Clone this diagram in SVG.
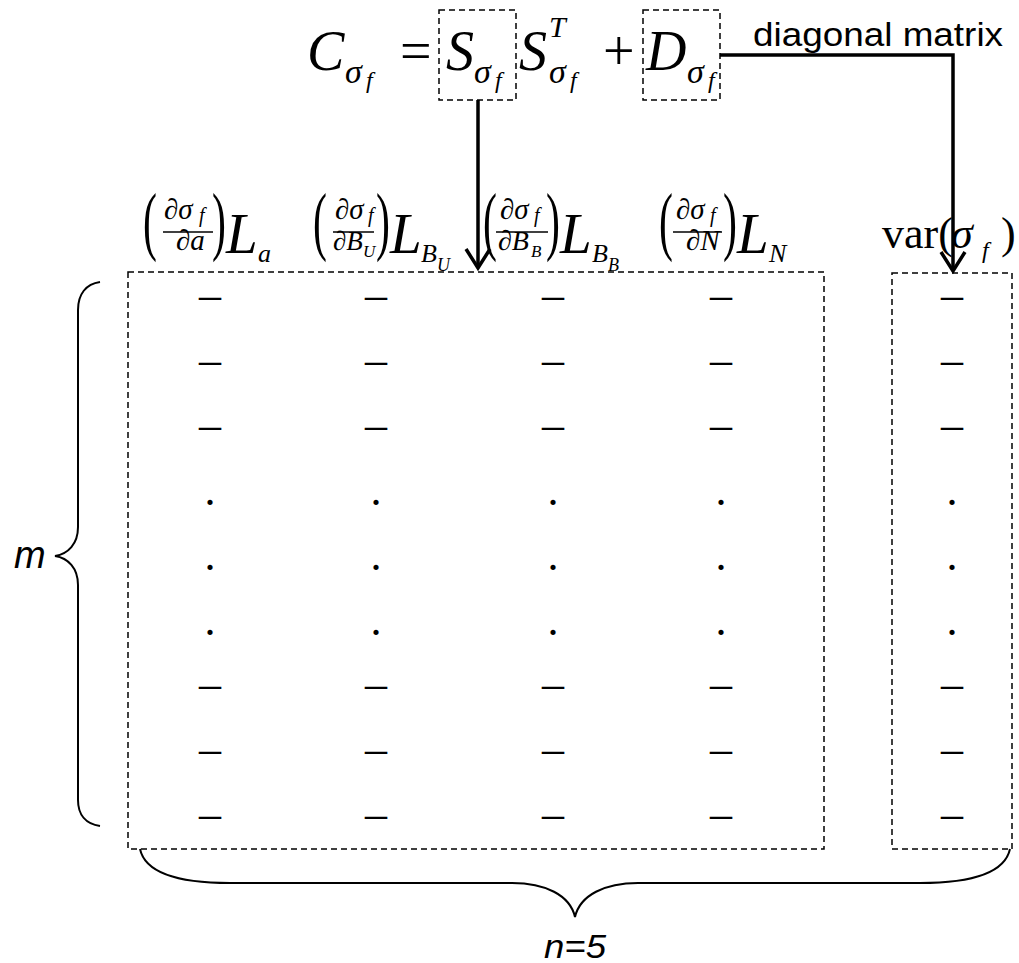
<svg xmlns="http://www.w3.org/2000/svg" width="1019" height="963" viewBox="0 0 1019 963">
<style>
.m{font-family:"Liberation Serif","Times New Roman",serif;fill:#000}
.i{font-style:italic}
.s{font-family:"Liberation Sans",Arial,sans-serif;fill:#000}
.dash{fill:none;stroke:#000;stroke-width:1.5;stroke-dasharray:6 4}
.bar{stroke:#000;stroke-width:1.5}
.conn{fill:none;stroke:#000;stroke-width:3.5}
.brace{fill:none;stroke:#000;stroke-width:2}
.cell{font-family:"Liberation Serif","Times New Roman",serif;font-size:44px;text-anchor:middle;fill:#000}
</style>
<rect width="1019" height="963" fill="#fff"/>

<g id="equation">
  <text class="m i" x="307" y="70" font-size="56">C</text>
  <text class="m i" x="345" y="83" font-size="34">σ</text>
  <text class="m i" x="366" y="88" font-size="24">f</text>
  <text class="m" x="400" y="70" font-size="56">=</text>
  <text class="m i" x="446" y="70" font-size="56">S</text>
  <text class="m i" x="474" y="83" font-size="34">σ</text>
  <text class="m i" x="495" y="88" font-size="24">f</text>
  <text class="m i" x="519" y="70" font-size="56">S</text>
  <text class="m i" x="549" y="37" font-size="30">T</text>
  <text class="m i" x="549" y="83" font-size="34">σ</text>
  <text class="m i" x="570" y="88" font-size="24">f</text>
  <text class="m" x="603" y="70" font-size="56">+</text>
  <text class="m i" x="646" y="70" font-size="56">D</text>
  <text class="m i" x="687" y="83" font-size="34">σ</text>
  <text class="m i" x="708" y="88" font-size="24">f</text>
  <rect id="box-S" class="dash" x="439" y="10" width="77" height="90"/>
  <rect id="box-D" class="dash" x="643" y="10" width="77" height="90"/>
</g>

<g id="label-diagonal">
  <text class="s" x="753" y="46" font-size="33" textLength="250" lengthAdjust="spacingAndGlyphs">diagonal matrix</text>
</g>

<g id="header-a">
  <text class="m" font-size="76" transform="translate(143,246) scale(0.55,1)">(</text>
  <text class="m" x="164" y="219" font-size="29">∂<tspan class="i">σ</tspan></text>
  <text class="m i" x="199" y="222" font-size="20">f</text>
  <line class="bar" x1="163" y1="232" x2="213" y2="232"/>
  <text class="m" x="176" y="250" font-size="29">∂<tspan class="i">a</tspan></text>
  <text class="m" font-size="76" transform="translate(212,246) scale(0.55,1)">)</text>
  <text class="m i" x="226" y="253" font-size="57">L</text>
  <text class="m i" x="258" y="262" font-size="26">a</text>
</g>

<g id="header-BU">
  <text class="m" font-size="76" transform="translate(313,246) scale(0.55,1)">(</text>
  <text class="m" x="335" y="219" font-size="29">∂<tspan class="i">σ</tspan></text>
  <text class="m i" x="368" y="222" font-size="20">f</text>
  <line class="bar" x1="333" y1="232" x2="374" y2="232"/>
  <text class="m" x="333" y="250" font-size="27">∂<tspan class="i">B</tspan></text>
  <text class="m i" x="363" y="257" font-size="17">U</text>
  <text class="m" font-size="76" transform="translate(376,246) scale(0.55,1)">)</text>
  <text class="m i" x="390" y="253" font-size="57">L</text>
  <text class="m i" x="421" y="262" font-size="26">B</text>
  <text class="m i" x="437" y="271" font-size="18">U</text>
</g>

<g id="header-BB">
  <text class="m" font-size="76" transform="translate(483,246) scale(0.55,1)">(</text>
  <text class="m" x="500" y="219" font-size="29">∂<tspan class="i">σ</tspan></text>
  <text class="m i" x="534" y="222" font-size="20">f</text>
  <line class="bar" x1="496" y1="232" x2="548" y2="232"/>
  <text class="m" x="498" y="250" font-size="28">∂<tspan class="i">B</tspan></text>
  <text class="m i" x="531" y="257" font-size="17">B</text>
  <text class="m" font-size="76" transform="translate(546,246) scale(0.55,1)">)</text>
  <text class="m i" x="560" y="253" font-size="57">L</text>
  <text class="m i" x="592" y="262" font-size="26">B</text>
  <text class="m i" x="608" y="271" font-size="18">B</text>
</g>

<g id="header-N">
  <text class="m" font-size="76" transform="translate(659,246) scale(0.55,1)">(</text>
  <text class="m" x="676" y="219" font-size="29">∂<tspan class="i">σ</tspan></text>
  <text class="m i" x="710" y="222" font-size="20">f</text>
  <line class="bar" x1="673" y1="232" x2="722" y2="232"/>
  <text class="m" x="686" y="250" font-size="29">∂<tspan class="i">N</tspan></text>
  <text class="m" font-size="76" transform="translate(723,246) scale(0.55,1)">)</text>
  <text class="m i" x="737" y="253" font-size="57">L</text>
  <text class="m i" x="769" y="262" font-size="26">N</text>
</g>

<g id="header-var">
  <text class="m" x="882" y="248" font-size="44">var(</text>
  <text class="m i" x="951" y="248" font-size="44">σ</text>
  <text class="m i" x="982" y="258" font-size="24">f</text>
  <text class="m" x="1001" y="248" font-size="44">)</text>
</g>

<g id="matrix-S">
  <rect class="dash" x="128" y="272" width="696" height="577"/>
  <g class="cell">
    <text x="210" y="309">–</text><text x="376" y="309">–</text><text x="553" y="309">–</text><text x="721" y="309">–</text>
    <text x="210" y="374">–</text><text x="376" y="374">–</text><text x="553" y="374">–</text><text x="721" y="374">–</text>
    <text x="210" y="439">–</text><text x="376" y="439">–</text><text x="553" y="439">–</text><text x="721" y="439">–</text>
    <text x="210" y="505">.</text><text x="376" y="505">.</text><text x="553" y="505">.</text><text x="721" y="505">.</text>
    <text x="210" y="570">.</text><text x="376" y="570">.</text><text x="553" y="570">.</text><text x="721" y="570">.</text>
    <text x="210" y="635">.</text><text x="376" y="635">.</text><text x="553" y="635">.</text><text x="721" y="635">.</text>
    <text x="210" y="698">–</text><text x="376" y="698">–</text><text x="553" y="698">–</text><text x="721" y="698">–</text>
    <text x="210" y="763">–</text><text x="376" y="763">–</text><text x="553" y="763">–</text><text x="721" y="763">–</text>
    <text x="210" y="828">–</text><text x="376" y="828">–</text><text x="553" y="828">–</text><text x="721" y="828">–</text>
  </g>
</g>

<g id="matrix-D">
  <rect class="dash" x="892" y="273" width="120" height="576"/>
  <g class="cell">
    <text x="952" y="309">–</text><text x="952" y="374">–</text><text x="952" y="439">–</text>
    <text x="952" y="505">.</text><text x="952" y="570">.</text><text x="952" y="635">.</text>
    <text x="952" y="698">–</text><text x="952" y="763">–</text><text x="952" y="828">–</text>
  </g>
</g>

<g id="brace-m">
  <path class="brace" d="M100,282 C86,284 78,294 78,310 L78,527 C78,544 68,554 55,556 C68,558 78,568 78,585 L78,800 C78,815 86,824 100,826"/>
  <text class="s i" x="14" y="568" font-size="38">m</text>
</g>

<g id="brace-n">
  <path class="brace" d="M140,849 C145,872 175,883 230,883 L512,883 C545,883 570,895 575,917 C580,895 605,883 638,883 L920,883 C975,883 1005,872 1010,849"/>
  <text class="s i" x="575" y="958" font-size="33" text-anchor="middle" textLength="62" lengthAdjust="spacingAndGlyphs">n=5</text>
</g>

<g id="connectors">
  <polyline class="conn" points="478,100 478,268"/>
  <polyline class="conn" points="466,249 478,268 490,249"/>
  <polyline class="conn" points="720,55 953,55 953,271"/>
  <polyline class="conn" points="941,252 953,271 965,252"/>
</g>
</svg>
